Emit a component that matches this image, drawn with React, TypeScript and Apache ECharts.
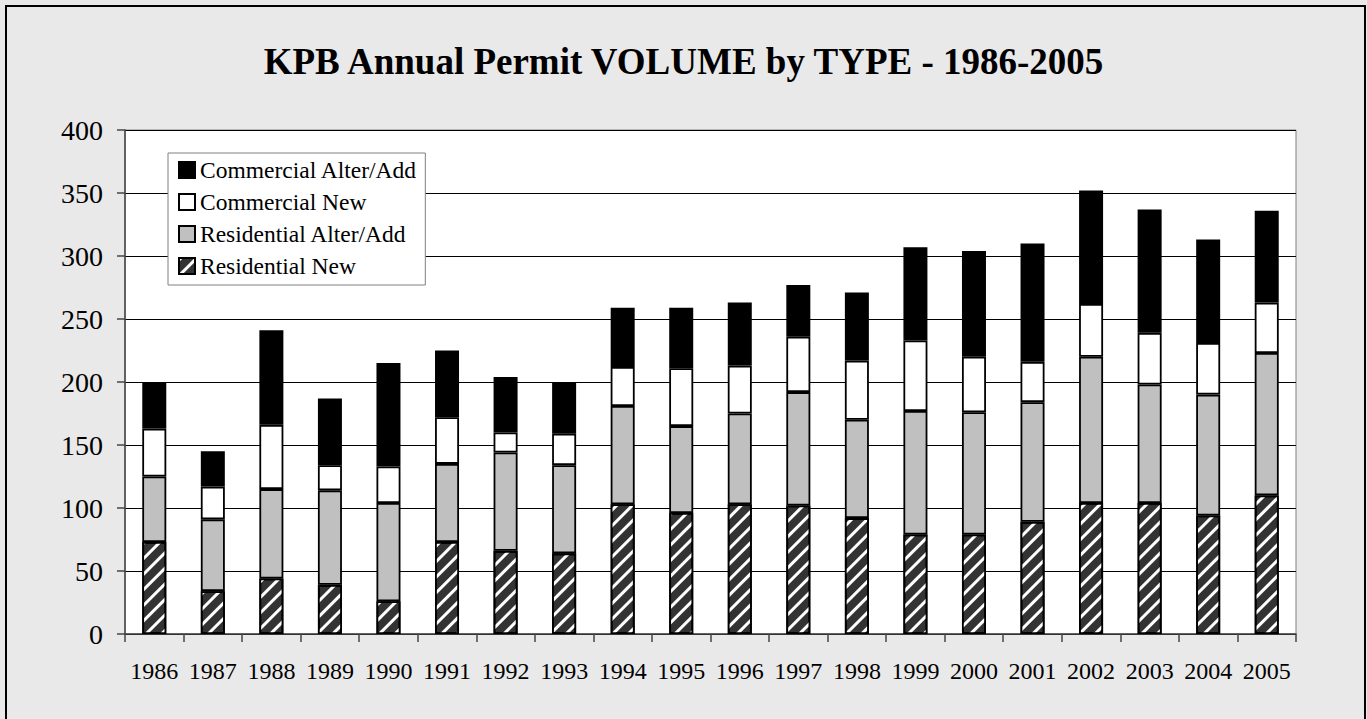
import React, { useEffect, useRef } from "react";
import * as echarts from "echarts";

const years = ["1986","1987","1988","1989","1990","1991","1992","1993","1994","1995","1996","1997","1998","1999","2000","2001","2002","2003","2004","2005"];
const residentialNew = [73, 34, 44, 39, 26, 73, 66, 64, 103, 96, 103, 102, 92, 79, 79, 89, 104, 104, 94, 110];
const residentialAlter = [52, 57, 71, 75, 78, 62, 78, 70, 78, 69, 72, 90, 78, 98, 97, 95, 116, 94, 96, 113];
const commercialNew = [38, 26, 51, 20, 29, 37, 16, 25, 31, 46, 38, 44, 47, 56, 44, 32, 42, 41, 41, 40];
const commercialAlter = [37, 28, 75, 53, 82, 53, 44, 41, 47, 48, 50, 41, 54, 74, 84, 94, 90, 98, 82, 73];
const yTicks = [0, 50, 100, 150, 200, 250, 300, 350, 400];

const FONT = "'Liberation Serif', 'Times New Roman', serif";

export default function App() {
  const ref = useRef<HTMLDivElement>(null);
  useEffect(() => {
    if (!ref.current) return;
    const chart = echarts.init(ref.current, null, { renderer: "svg" });
    const barBase = { type: "bar", stack: "total", barWidth: 24 };
    const border = { borderColor: "#000", borderWidth: 1.8 };
    chart.setOption({
      animation: false,
      backgroundColor: "#e9e9e9",
      textStyle: { fontFamily: FONT },
      title: {
        text: "KPB Annual Permit VOLUME by TYPE - 1986-2005",
        left: "center",
        top: 43,
        padding: 0,
        textStyle: { fontFamily: FONT, fontSize: 37, fontWeight: "bold", color: "#000", lineHeight: 37 },
      },
      graphic: [
        {
          type: "rect",
          shape: { x: 6, y: 6, width: 1359, height: 800 },
          style: { fill: "none", stroke: "#000", lineWidth: 2 },
          silent: true,
          z: 100,
        },
      ],
      legend: {
        orient: "vertical",
        left: 168,
        top: 153,
        padding: [5, 8, 7, 10],
        itemWidth: 16,
        itemHeight: 16,
        itemGap: 8,
        icon: "rect",
        backgroundColor: "#fff",
        borderColor: "#808080",
        borderWidth: 1,
        textStyle: { fontFamily: FONT, fontSize: 23.5, color: "#000", lineHeight: 24, padding: [0, 0, 0, 0] },
        data: ["Commercial Alter/Add", "Commercial New", "Residential Alter/Add", "Residential New"],
      },
      grid: {
        left: 125,
        right: 71,
        top: 130,
        bottom: 85,
        show: true,
        backgroundColor: "#fff",
        borderColor: "#808080",
        borderWidth: 1,
      },
      xAxis: {
        type: "category",
        data: years,
        boundaryGap: true,
        axisLine: { lineStyle: { color: "#444", width: 1.5 } },
        axisTick: { show: true, length: 8, alignWithLabel: false, lineStyle: { color: "#444", width: 1.5 } },
        axisLabel: { fontFamily: FONT, fontSize: 24, color: "#000", margin: 25, interval: 0 },
      },
      yAxis: {
        type: "value",
        min: 0,
        max: 400,
        interval: 50,
        axisLine: { show: true, lineStyle: { color: "#444", width: 1.5 } },
        axisTick: { show: true, length: 8, lineStyle: { color: "#444", width: 1.5 } },
        axisLabel: {
          fontFamily: FONT,
          fontSize: 28,
          color: "#000",
          margin: 22,
          formatter: (v: number) => (yTicks.includes(v) ? String(v) : ""),
        },
        splitLine: { show: true, lineStyle: { color: "#000", width: 1 } },
      },
      series: [
        {
          ...barBase,
          name: "Residential New",
          data: residentialNew,
          itemStyle: {
            color: "#333",
            ...border,
            decal: {
              symbol: "rect",
              symbolSize: 1,
              dashArrayX: [1, 0],
              dashArrayY: [3, 8],
              rotation: -Math.PI / 4,
              color: "#fff",
            },
          },
        },
        { ...barBase, name: "Residential Alter/Add", data: residentialAlter, itemStyle: { color: "#c0c0c0", ...border } },
        { ...barBase, name: "Commercial New", data: commercialNew, itemStyle: { color: "#fff", ...border } },
        { ...barBase, name: "Commercial Alter/Add", data: commercialAlter, itemStyle: { color: "#000", ...border } },
      ],
    });
    return () => chart.dispose();
  }, []);
  return <div ref={ref} style={{ position: "fixed", left: 0, top: 0, width: 1367, height: 719 }} />;
}
